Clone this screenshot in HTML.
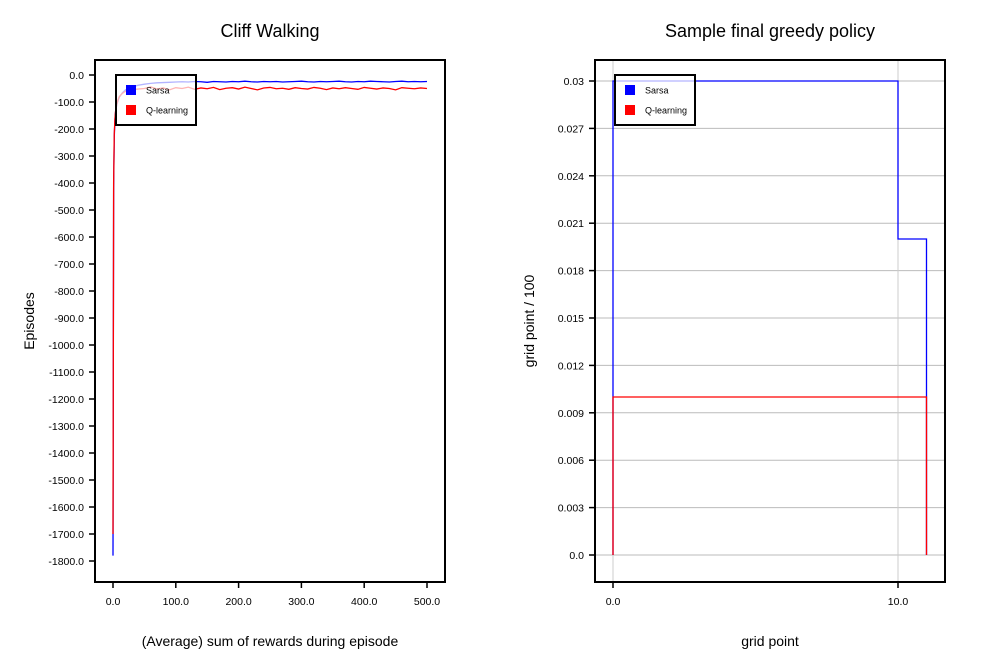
<!DOCTYPE html>
<html><head><meta charset="utf-8"><style>
body{margin:0;background:#fff;font-family:"Liberation Sans",sans-serif}
svg text{font-family:"Liberation Sans",sans-serif}
</style></head><body>
<svg id="c" width="1000" height="660" xmlns="http://www.w3.org/2000/svg">
<rect width="1000" height="660" fill="#fff"/>
<text x="270" y="37" font-size="18" text-anchor="middle">Cliff Walking</text>
<text x="770" y="37" font-size="18" text-anchor="middle">Sample final greedy policy</text>
<text x="270" y="646" font-size="14" text-anchor="middle">(Average) sum of rewards during episode</text>
<text x="770" y="646" font-size="14" text-anchor="middle">grid point</text>
<text transform="translate(34,321) rotate(-90)" font-size="14" text-anchor="middle">Episodes</text>
<text transform="translate(534,321) rotate(-90)" font-size="14" text-anchor="middle">grid point / 100</text>
<g id="L"></g><g id="R"></g>
</svg>
<script>
const leftEpisodes=[0,1,2,3,4,6,8,10,15,20,30,40,50,60,70,80,90,100,110,120,130,140,150,160,170,180,190,200,210,220,230,240,250,260,270,280,290,300,310,320,330,340,350,360,370,380,390,400,410,420,430,440,450,460,470,480,490,500];
const sarsaRewards=[-1780,-420,-230,-170,-140,-110,-95,-82,-66,-55,-45,-38,-34,-31,-29,-28,-27,-26,-25,-26,-24,-25,-27,-24,-25,-26,-24,-25,-23,-25,-26,-24,-25,-24,-26,-25,-24,-23,-25,-26,-24,-25,-24,-23,-25,-26,-24,-25,-23,-24,-25,-26,-24,-23,-25,-24,-25,-24];
const qRewards=[-1700,-400,-220,-165,-135,-108,-92,-80,-68,-60,-54,-52,-50,-44,-52,-48,-55,-47,-50,-45,-53,-48,-51,-46,-54,-49,-47,-52,-45,-50,-55,-48,-46,-51,-49,-53,-47,-50,-52,-46,-49,-54,-48,-51,-47,-50,-53,-46,-49,-52,-48,-50,-55,-47,-49,-51,-48,-50];
const leftYTicks=[0,-100,-200,-300,-400,-500,-600,-700,-800,-900,-1000,-1100,-1200,-1300,-1400,-1500,-1600,-1700,-1800];
const leftXTicks=[0,100,200,300,400,500];
const sarsaPolicyX=[0,0,10,10,11,11];
const sarsaPolicyY=[0,0.03,0.03,0.02,0.02,0];
const qPolicyX=[0,0,11,11];
const qPolicyY=[0,0.01,0.01,0];
const rightYTicks=[0,0.003,0.006,0.009,0.012,0.015,0.018,0.021,0.024,0.027,0.03];
const rightYLabels=["0.0","0.003","0.006","0.009","0.012","0.015","0.018","0.021","0.024","0.027","0.03"];
const rightXTicks=[0,10];

const NS="http://www.w3.org/2000/svg";
function mk(p,t,a){const e=document.createElementNS(NS,t);for(const k in a)e.setAttribute(k,a[k]);p.appendChild(e);return e;}
const lx=v=>113+v*0.628, ly=v=>75-v*0.27;
const rx=v=>613+v*28.5, ry=v=>555-v*15800;

function frame(g,x0,pre){
  const r=mk(g,'rect',{x:x0,y:60,width:350,height:522,fill:'none',stroke:'#000','stroke-width':2});
  
  
}
function legend(g,x0,pre){
  const b=mk(g,'rect',{x:x0,y:75,width:80,height:50,fill:'rgba(255,255,255,0.7)',stroke:'#000','stroke-width':2});
  
  
  [['Sarsa','#0000ff',90],['Q-learning','#ff0000',110]].forEach(([n,c,y])=>{
    const s=mk(g,'rect',{x:x0+10,y:y-5,width:10,height:10,fill:c});
    
    
    const t=mk(g,'text',{x:x0+30,y:y+3.5,'font-size':9});t.textContent=n;
    
    
  });
}
// LEFT
const L=document.getElementById('L');
leftYTicks.forEach(v=>{
  const t=mk(L,'text',{x:84,y:ly(v)+4,'font-size':10.5,'text-anchor':'end'});t.textContent=v.toFixed(1);
  
  
  mk(L,'line',{x1:89,x2:95,y1:ly(v),y2:ly(v),stroke:'#000','stroke-width':1.5});
});
leftXTicks.forEach(v=>{
  const t=mk(L,'text',{x:lx(v),y:605,'font-size':10.5,'text-anchor':'middle'});t.textContent=v.toFixed(1);
  
  
  mk(L,'line',{x1:lx(v),x2:lx(v),y1:582,y2:588,stroke:'#000','stroke-width':1.5});
});
[[sarsaRewards,'#0000ff','sarsa'],[qRewards,'#ff0000','q-learning']].forEach(([d,c,n])=>{
  const p=mk(L,'polyline',{fill:'none',stroke:c,'stroke-width':1.3,points:leftEpisodes.map((e,i)=>lx(e)+','+ly(d[i])).join(' ')});
  
  
});
frame(L,95,'left');legend(L,116,'left');
// RIGHT
const R=document.getElementById('R');
rightYTicks.forEach((v,i)=>{
  const gl=mk(R,'line',{x1:595,x2:945,y1:ry(v),y2:ry(v),stroke:'#bbb','stroke-width':1});
  
  
  const t=mk(R,'text',{x:584,y:ry(v)+4,'font-size':10.5,'text-anchor':'end'});t.textContent=rightYLabels[i];
  
  
  mk(R,'line',{x1:589,x2:595,y1:ry(v),y2:ry(v),stroke:'#000','stroke-width':1.5});
});
rightXTicks.forEach(v=>{
  const gl=mk(R,'line',{x1:rx(v),x2:rx(v),y1:60,y2:582,stroke:'#ccc','stroke-width':1});
  
  
  const t=mk(R,'text',{x:rx(v),y:605,'font-size':10.5,'text-anchor':'middle'});t.textContent=v.toFixed(1);
  
  
  mk(R,'line',{x1:rx(v),x2:rx(v),y1:582,y2:588,stroke:'#000','stroke-width':1.5});
});
[[sarsaPolicyX,sarsaPolicyY,'#0000ff','sarsa'],[qPolicyX,qPolicyY,'#ff0000','q-learning']].forEach(([xs,ys,c,n])=>{
  const p=mk(R,'polyline',{fill:'none',stroke:c,'stroke-width':1.3,points:xs.map((x,i)=>rx(x)+','+ry(ys[i])).join(' ')});
  
  
});
frame(R,595,'right');legend(R,615,'right');
</script>
</body></html>
